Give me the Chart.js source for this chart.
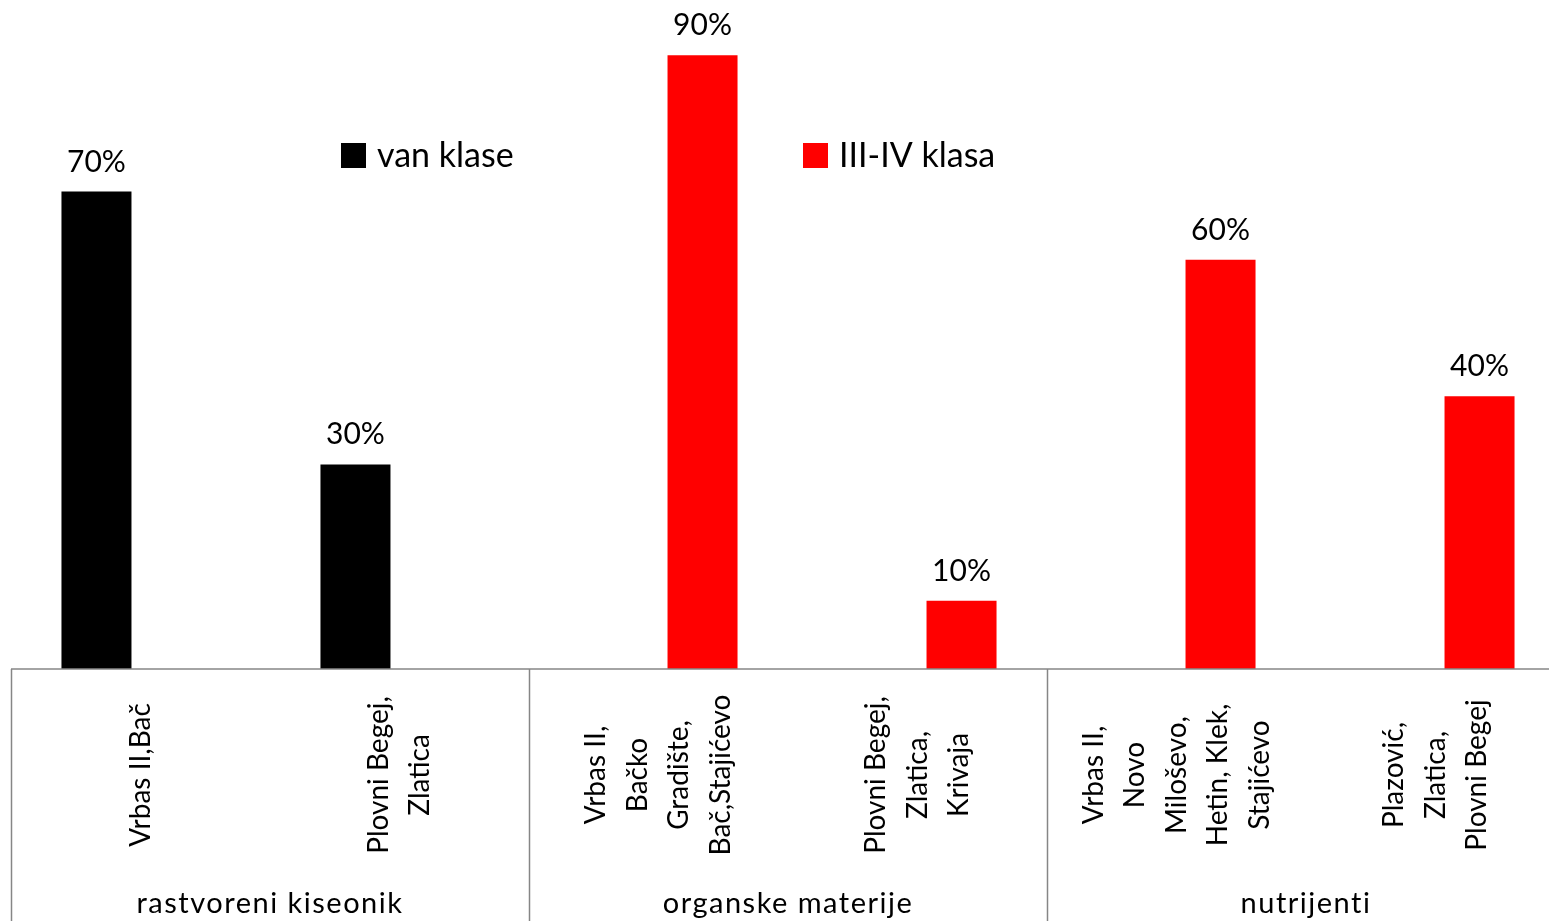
<!DOCTYPE html>
<html>
<head>
<meta charset="utf-8">
<script src="https://cdn.jsdelivr.net/npm/chart.js@4/dist/chart.umd.min.js"></script>
<style>
  html, body { margin: 0; padding: 0; background: #fff; overflow: hidden; }
  #wrap { position: absolute; left: 0; top: -13px; width: 1600px; height: 934px; }
</style>
</head>
<body>
<div id="wrap"><canvas id="grafik"></canvas></div>
<script>
// podaci
var lokaliteti = [
  ["Vrbas II,Bač"],
  ["Plovni Begej,", "Zlatica"],
  ["Vrbas II,", "Bačko", "Gradište,", "Bač,Stajićevo"],
  ["Plovni Begej,", "Zlatica,", "Krivaja"],
  ["Vrbas II,", "Novo", "Miloševo,", "Hetin, Klek,", "Stajićevo"],
  ["Plazović,", "Zlatica,", "Plovni Begej"]
];
var grupe = ["rastvoreni kiseonik", "organske materije", "nutrijenti"];
var grupaOd = [0, 2, 4]; // prvi lokalitet u grupi
var vanKlase = [70, 30, null, null, null, null];
var klasa34 = [null, null, 90, 10, 60, 40];
var serije = ["van klase", "III-IV klasa"];
var boje = ["#000000", "#ff0000"];

var FONT = "Lato, 'DejaVu Sans', sans-serif";

var crtanje = {
  id: "crtanje",
  afterDraw: function (chart) {
    var ctx = chart.ctx;
    var area = chart.chartArea;
    var xs = chart.scales.x;
    var korak = xs.getPixelForValue(1) - xs.getPixelForValue(0);
    ctx.save();

    // osa
    ctx.strokeStyle = "#868686";
    ctx.lineWidth = 1.5;
    ctx.beginPath();
    ctx.moveTo(area.left, area.bottom);
    ctx.lineTo(chart.width, area.bottom);
    // pregrade izmedju grupa
    for (var g = 0; g <= grupe.length; g++) {
      var idx = g < grupe.length ? grupaOd[g] : lokaliteti.length;
      var px = Math.round(xs.getPixelForValue(idx) - korak / 2) + 0.5;
      ctx.moveTo(px, area.bottom);
      ctx.lineTo(px, chart.height);
    }
    ctx.stroke();

    ctx.fillStyle = "#000";

    // nazivi lokaliteta, rotirani
    ctx.font = "28px " + FONT;
    ctx.textAlign = "center";
    ctx.textBaseline = "middle";
    for (var i = 0; i < lokaliteti.length; i++) {
      var linije = lokaliteti[i];
      var cx = xs.getPixelForValue(i);
      var lh = 41.5;
      for (var k = 0; k < linije.length; k++) {
        var lx = cx + (k - (linije.length - 1) / 2) * lh;
        ctx.save();
        ctx.translate(lx, area.bottom + 106);
        ctx.rotate(-Math.PI / 2);
        ctx.fillText(linije[k], 0, 0);
        ctx.restore();
      }
    }

    // nazivi grupa
    ctx.font = "29px " + FONT;
    ctx.letterSpacing = "1.5px";
    ctx.textBaseline = "alphabetic";
    for (var g2 = 0; g2 < grupe.length; g2++) {
      var prvi = grupaOd[g2];
      var posl = (g2 + 1 < grupe.length ? grupaOd[g2 + 1] : lokaliteti.length) - 1;
      var gx = (xs.getPixelForValue(prvi) + xs.getPixelForValue(posl)) / 2;
      ctx.fillText(grupe[g2], gx, area.bottom + 244);
    }
    ctx.letterSpacing = "0px";

    // vrednosti iznad stubova
    ctx.font = "30px " + FONT;
    chart.data.datasets.forEach(function (ds, d) {
      var meta = chart.getDatasetMeta(d);
      meta.data.forEach(function (bar, j) {
        if (ds.data[j] == null) return;
        ctx.fillText(ds.data[j] + "%", bar.x, bar.y - 20);
      });
    });

    // legenda
    ctx.font = "34px " + FONT;
    ctx.textAlign = "left";
    ctx.textBaseline = "middle";
    var legX = [341, 803];
    var legY = area.top + 168;
    for (var s = 0; s < serije.length; s++) {
      ctx.fillStyle = boje[s];
      ctx.fillRect(legX[s], legY - 12, 25, 25);
      ctx.fillStyle = "#000";
      ctx.fillText(serije[s], legX[s] + 36, legY + 1);
    }
    ctx.restore();
  }
};

new Chart(document.getElementById("grafik"), {
  type: "bar",
  data: {
    labels: lokaliteti,
    datasets: [
      { label: serije[0], data: vanKlase, backgroundColor: boje[0] },
      { label: serije[1], data: klasa34, backgroundColor: boje[1] }
    ]
  },
  options: {
    responsive: true,
    maintainAspectRatio: false,
    animation: false,
    events: [],
    layout: { padding: { left: 11, right: 35, top: 0, bottom: 252 } },
    categoryPercentage: 0.68,
    barPercentage: 0.795,
    scales: {
      x: { display: false },
      y: { display: false, min: 0, max: 100 }
    },
    plugins: {
      legend: { display: false },
      tooltip: { enabled: false }
    }
  },
  plugins: [crtanje]
});
</script>
</body>
</html>
